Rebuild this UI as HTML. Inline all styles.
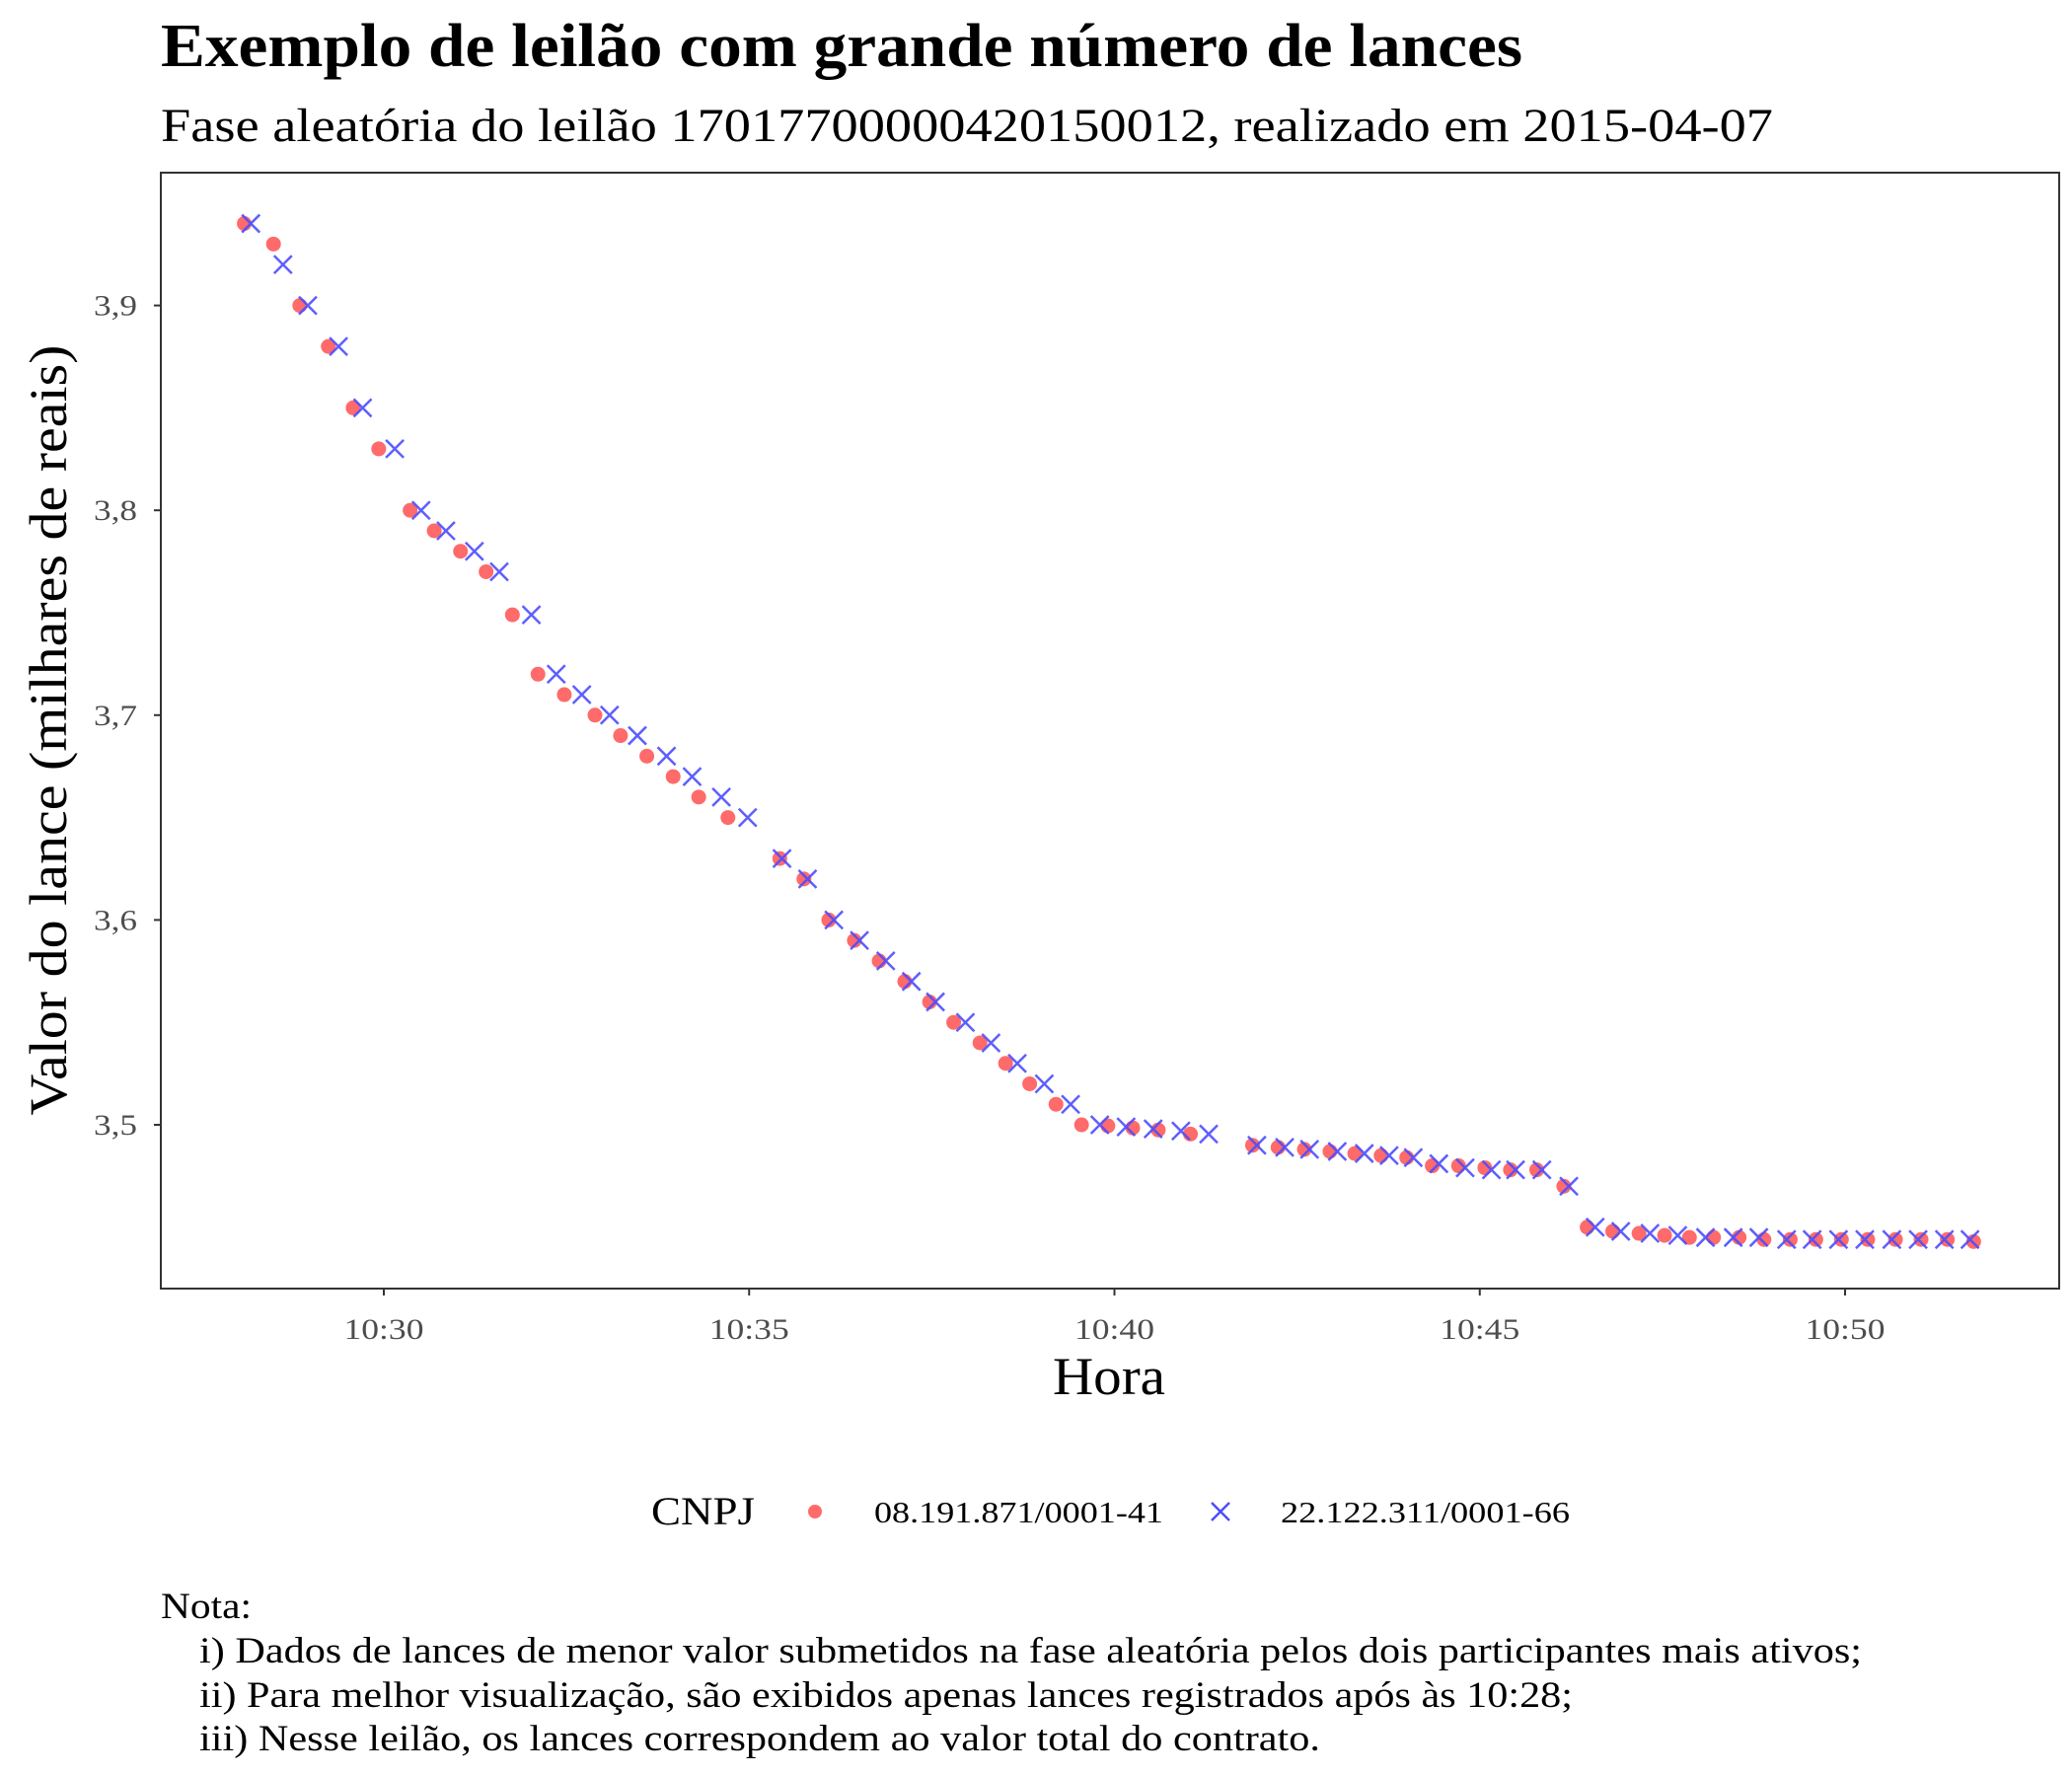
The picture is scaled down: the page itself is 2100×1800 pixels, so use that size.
<!DOCTYPE html>
<html><head><meta charset="utf-8"><style>
html,body{margin:0;padding:0;background:#fff}
svg{display:block;font-family:"Liberation Serif",serif}
</style></head><body>
<svg id="chart" width="2100" height="1800" viewBox="0 0 2100 1800" xmlns="http://www.w3.org/2000/svg">
<rect width="2100" height="1800" fill="#fff"/>
<text x="163" y="67" font-size="62" font-weight="bold" textLength="1380" lengthAdjust="spacingAndGlyphs">Exemplo de leilão com grande número de lances</text>
<text x="163" y="143" font-size="48" textLength="1634" lengthAdjust="spacingAndGlyphs">Fase aleatória do leilão 17017700000420150012, realizado em 2015-04-07</text>
<rect x="163" y="175" width="1924" height="1131" fill="none" stroke="#333" stroke-width="2"/>
<g id="yaxis"></g>
<g id="xaxis"></g>
<g id="redpts"></g>
<g id="bluepts"></g>
<text x="1124" y="1413" font-size="54" text-anchor="middle" textLength="114" lengthAdjust="spacingAndGlyphs">Hora</text>
<text transform="translate(67,740) rotate(-90)" font-size="54" text-anchor="middle" textLength="781" lengthAdjust="spacingAndGlyphs">Valor do lance (milhares de reais)</text>
<g>
<text x="660" y="1545" font-size="40" textLength="105" lengthAdjust="spacingAndGlyphs">CNPJ</text>
<circle cx="826" cy="1532" r="7" fill="#ff5a5a" fill-opacity="0.9"/>
<text x="886" y="1543" font-size="31" textLength="293" lengthAdjust="spacingAndGlyphs">08.191.871/0001-41</text>
<path d="M1228 1523 L1246 1541 M1246 1523 L1228 1541" stroke="#4d4dff" stroke-width="2.5"/>
<text x="1298" y="1543" font-size="31" textLength="293" lengthAdjust="spacingAndGlyphs">22.122.311/0001-66</text>
</g>
<g font-size="37">
<text x="163" y="1640" textLength="92" lengthAdjust="spacingAndGlyphs">Nota:</text>
<text x="202" y="1685" textLength="1685" lengthAdjust="spacingAndGlyphs">i) Dados de lances de menor valor submetidos na fase aleatória pelos dois participantes mais ativos;</text>
<text x="202" y="1730" textLength="1392" lengthAdjust="spacingAndGlyphs">ii) Para melhor visualização, são exibidos apenas lances registrados após às 10:28;</text>
<text x="202" y="1774" textLength="1136" lengthAdjust="spacingAndGlyphs">iii) Nesse leilão, os lances correspondem ao valor total do contrato.</text>
</g>
</svg>
<script>
const redTimes=[28.09,28.49,28.85,29.24,29.58,29.93,30.36,30.69,31.05,31.40,31.76,32.11,32.47,32.89,33.24,33.60,33.96,34.31,34.71,35.42,35.75,36.09,36.44,36.78,37.13,37.47,37.80,38.16,38.51,38.84,39.20,39.55,39.91,40.25,40.60,41.04,41.89,42.24,42.60,42.95,43.29,43.65,44.00,44.35,44.71,45.07,45.42,45.78,46.15,46.47,46.82,47.18,47.53,47.87,48.20,48.55,48.89,49.25,49.60,49.95,50.31,50.69,51.04,51.40,51.76];
const redValues=[3.94,3.93,3.90,3.88,3.85,3.83,3.80,3.79,3.78,3.77,3.749,3.72,3.71,3.70,3.69,3.68,3.67,3.66,3.65,3.63,3.62,3.60,3.59,3.58,3.57,3.56,3.55,3.54,3.53,3.52,3.51,3.50,3.4995,3.4985,3.4975,3.4955,3.49,3.489,3.488,3.487,3.486,3.485,3.484,3.48,3.48,3.479,3.478,3.478,3.47,3.45,3.448,3.447,3.446,3.445,3.445,3.445,3.444,3.444,3.444,3.444,3.444,3.444,3.444,3.444,3.443];
const blueTimes=[28.18,28.62,28.96,29.38,29.71,30.15,30.51,30.85,31.24,31.58,32.02,32.36,32.71,33.09,33.47,33.87,34.22,34.62,34.98,35.45,35.80,36.16,36.51,36.87,37.22,37.55,37.96,38.31,38.67,39.04,39.40,39.80,40.16,40.53,40.91,41.29,41.95,42.33,42.67,43.05,43.42,43.76,44.09,44.44,44.80,45.16,45.49,45.85,46.22,46.58,46.93,47.33,47.71,48.09,48.47,48.82,49.20,49.55,49.91,50.27,50.64,51.00,51.36,51.71];
const blueValues=[3.94,3.92,3.90,3.88,3.85,3.83,3.80,3.79,3.78,3.77,3.749,3.72,3.71,3.70,3.69,3.68,3.67,3.66,3.65,3.63,3.62,3.60,3.59,3.58,3.57,3.56,3.55,3.54,3.53,3.52,3.51,3.50,3.499,3.498,3.497,3.4955,3.49,3.489,3.488,3.487,3.486,3.485,3.484,3.481,3.479,3.478,3.478,3.478,3.47,3.45,3.448,3.447,3.446,3.445,3.445,3.445,3.444,3.444,3.444,3.444,3.444,3.444,3.444,3.444];
const yTicks=[3.5,3.6,3.7,3.8,3.9];
const yTickLabels=["3,5","3,6","3,7","3,8","3,9"];
const xTicks=[30,35,40,45,50];
const xTickLabels=["10:30","10:35","10:40","10:45","10:50"];

const NS="http://www.w3.org/2000/svg";
function xScale(m){return 389+(m-30)*74.05;}
function yScale(v){return 1140-(v-3.5)*2076;}
function mk(tag,attrs,parent){const e=document.createElementNS(NS,tag);for(const k in attrs)e.setAttribute(k,attrs[k]);parent.appendChild(e);return e;}

const ya=document.getElementById('yaxis');
yTicks.forEach((v,i)=>{
  const y=yScale(v);
  const t=mk('line',{x1:156,x2:163,y1:y,y2:y,stroke:'#333','stroke-width':2},ya);
  
  
  const l=mk('text',{x:139,y:y+10,'font-size':30,fill:'#4d4d4d','text-anchor':'end',textLength:44,lengthAdjust:'spacingAndGlyphs'},ya);
  l.textContent=yTickLabels[i];
  
  
});
const xa=document.getElementById('xaxis');
xTicks.forEach((m,i)=>{
  const x=xScale(m);
  const t=mk('line',{x1:x,x2:x,y1:1306,y2:1313,stroke:'#333','stroke-width':2},xa);
  
  
  const l=mk('text',{x:x,y:1357,'font-size':30,fill:'#4d4d4d','text-anchor':'middle',textLength:81,lengthAdjust:'spacingAndGlyphs'},xa);
  l.textContent=xTickLabels[i];
  
  
});
const rg=document.getElementById('redpts');
redTimes.forEach((m,i)=>{
  const c=mk('circle',{cx:xScale(m),cy:yScale(redValues[i]),r:7.5,fill:'#ff5a5a','fill-opacity':0.9},rg);
  
  
});
const bg=document.getElementById('bluepts');
blueTimes.forEach((m,i)=>{
  const x=xScale(m),y=yScale(blueValues[i]),d=9;
  const p=mk('path',{d:`M${x-d} ${y-d} L${x+d} ${y+d} M${x+d} ${y-d} L${x-d} ${y+d}`,stroke:'#4d4dff','stroke-opacity':0.9,'stroke-width':2.5,fill:'none'},bg);
  
  
});
</script>
</body></html>
